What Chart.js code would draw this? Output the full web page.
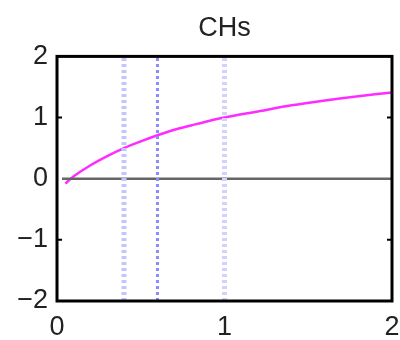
<!DOCTYPE html>
<html>
<head>
<meta charset="utf-8">
<script src="https://cdn.jsdelivr.net/npm/chart.js@4"></script>
<style>
  html, body { margin: 0; padding: 0; background: #fff; }
  #wrap { width: 400px; height: 340px; }
</style>
</head>
<body>
<div id="wrap"><canvas id="chs"></canvas></div>
<script>
// values
const curveX = [0.05, 0.1, 0.2, 0.3, 0.4, 0.5, 0.6, 0.7, 0.8, 0.9, 1.0, 1.2, 1.4, 1.6, 1.8, 2.0];
const curveY = [-0.08, 0.04, 0.22, 0.37, 0.5, 0.61, 0.71, 0.8, 0.87, 0.94, 1.0, 1.1, 1.2, 1.28, 1.35, 1.41];
const vlineX = [0.4, 0.6, 1.0];
const vlineColors = ['#c4c4ff', '#8c8cff', '#d2d2ff'];
const vlineWidths = [5, 3, 5];
const zeroY = 0;
const xTicks = [0, 1, 2];
const yTicks = [-2, -1, 0, 1, 2];

const curve = curveX.map((x, i) => ({ x: x, y: curveY[i] }));

const vlineSets = vlineX.map((x, i) => ({
  data: [{ x: x, y: -2 }, { x: x, y: 2 }],
  borderColor: vlineColors[i],
  borderWidth: vlineWidths[i],
  borderDash: [3, 3],
  pointRadius: 0,
  showLine: true
}));

// frame round the plot area plus the small inward ticks on the y sides
const framePlugin = {
  id: 'frame',
  afterDatasetsDraw(chart) {
    const { ctx, chartArea: a, scales } = chart;
    ctx.save();
    ctx.strokeStyle = '#000';
    ctx.lineWidth = 3;
    ctx.strokeRect(a.left, a.top, a.right - a.left, a.bottom - a.top);
    ctx.lineWidth = 2;
    [-1, 1].forEach(v => {
      const py = scales.y.getPixelForValue(v);
      ctx.beginPath();
      ctx.moveTo(a.left, py); ctx.lineTo(a.left + 5, py);
      ctx.moveTo(a.right, py); ctx.lineTo(a.right - 5, py);
      ctx.stroke();
    });
    ctx.restore();
  }
};

const chsChart = new Chart(document.getElementById('chs').getContext('2d'), {
  type: 'scatter',
  data: {
    datasets: [
      ...vlineSets,
      {
        data: [{ x: 0.03, y: zeroY }, { x: 2, y: zeroY }],
        borderColor: '#666',
        borderWidth: 2.5,
        pointRadius: 0,
        showLine: true
      },
      {
        data: curve,
        borderColor: '#ff2cff',
        borderWidth: 2.5,
        pointRadius: 0,
        showLine: true,
        tension: 0.3
      }
    ]
  },
  options: {
    responsive: true,
    maintainAspectRatio: false,
    animation: false,
    layout: { padding: 0 },
    plugins: {
      legend: { display: false },
      tooltip: { enabled: false },
      title: {
        display: true,
        fullSize: false,
        text: 'CHs',
        color: '#222',
        font: { family: 'Liberation Sans', size: 27, weight: 'normal' },
        padding: { top: 12, bottom: 12 }
      }
    },
    scales: {
      x: {
        type: 'linear',
        min: 0, max: 2,
        afterBuildTicks(s) { s.ticks = xTicks.map(v => ({ value: v })); },
        afterFit(s) { s.height = 39; s.paddingRight = 8; s.paddingLeft = 0; },
        grid: { display: false, drawTicks: false, tickLength: 0 },
        border: { display: false },
        ticks: {
          color: '#222',
          font: { family: 'Liberation Sans', size: 27 },
          padding: 10,
          maxRotation: 0,
          callback: v => String(v)
        }
      },
      y: {
        type: 'linear',
        min: -2, max: 2,
        afterBuildTicks(s) { s.ticks = yTicks.map(v => ({ value: v })); },
        afterFit(s) { s.width = 57; },
        grid: { display: false, drawTicks: false, tickLength: 0 },
        border: { display: false },
        ticks: {
          color: '#222',
          font: { family: 'Liberation Sans', size: 27 },
          padding: 9,
          callback: v => (v < 0 ? '\u2212' + Math.abs(v) : String(v))
        }
      }
    }
  },
  plugins: [framePlugin]
});
</script>
</body>
</html>
